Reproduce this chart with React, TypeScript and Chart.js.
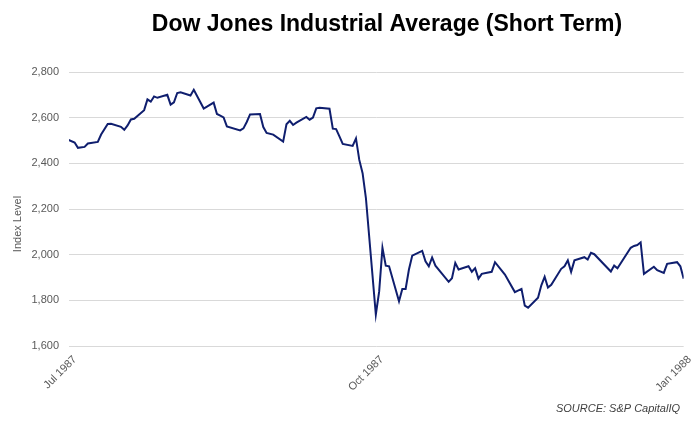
import React, { useEffect, useRef } from "react";
import { Chart, registerables } from "chart.js";

Chart.register(...registerables);

// Day offsets from 17 Jul 1987 (trading days) and closing levels
const days = [
  0, 3, 4, 6, 7, 10, 11, 13, 14, 17, 18, 19, 20, 21, 24, 25, 26, 27, 28, 31, 32, 33, 34, 35, 38, 39,
  42, 45, 46, 47, 48, 49, 53, 54, 55, 56, 59, 60, 61, 63, 66, 67, 68, 69, 70, 73, 74, 75, 76, 77, 80,
  81, 82, 83, 84, 87, 88, 89, 90, 91, 94, 95, 96, 97, 98, 101, 102, 103, 104, 105, 108, 109, 110, 111,
  112, 116, 117, 118, 119, 122, 123, 124, 125, 126, 129, 130, 133, 136, 138, 139, 140, 143, 144, 145,
  146, 147, 150, 151, 152, 153, 154, 157, 158, 159, 160, 165, 166, 167, 171, 172, 173, 174, 175, 178,
  179, 181, 182, 185, 186, 187,
];
const closes = [
  2510, 2491, 2468, 2472, 2487, 2494, 2526, 2572, 2573, 2560, 2547, 2566, 2592, 2595, 2633, 2680, 2670,
  2693, 2687, 2700, 2657, 2667, 2708, 2711, 2697, 2722,
  2640, 2666, 2616, 2609, 2601, 2562, 2544, 2553, 2581, 2614, 2616, 2559, 2533, 2526, 2495, 2571, 2586,
  2568, 2578, 2603, 2591, 2600, 2641, 2643, 2639,
  2552, 2550, 2518, 2485, 2476, 2509, 2415, 2357, 2248, 1738, 1838, 2030, 1952, 1949, 1796, 1850, 1850,
  1935, 1996, 2017, 1971, 1949, 1988,
  1952, 1881, 1897, 1964, 1935, 1949, 1925, 1941, 1895, 1916, 1925, 1967, 1913, 1836, 1850, 1777, 1768,
  1811, 1866, 1903,
  1856, 1868, 1938, 1949, 1975, 1925, 1975, 1989, 1979, 2008, 2002, 1926, 1952, 1940, 2030, 2038, 2042,
  2054, 1916, 1947,
  1932, 1920, 1960, 1967, 1949, 1895,
];

const tickDays = [1.3, 94, 187];
const tickLabels = ["Jul 1987", "Oct 1987", "Jan 1988"];
const yMin = 1600;
const yMax = 2800;
const yStep = 200;

const TITLE = "Dow Jones Industrial Average (Short Term)";
const Y_TITLE = "Index Level";
const SOURCE = "SOURCE: S&P CapitalIQ";

const FONT = "'Liberation Sans', Arial, sans-serif";

export default function App() {
  const ref = useRef<HTMLCanvasElement | null>(null);

  useEffect(() => {
    document.body.style.margin = "0";
    const canvas = ref.current;
    if (!canvas) return;

    const textPlugin = {
      id: "customTexts",
      afterDraw(chart: any) {
        const ctx = chart.ctx as CanvasRenderingContext2D;
        ctx.save();
        ctx.fillStyle = "#000000";
        ctx.font = `bold 23px ${FONT}`;
        ctx.textAlign = "center";
        ctx.textBaseline = "alphabetic";
        ctx.fillText(TITLE, 387, 31);

        ctx.fillStyle = "#404040";
        ctx.font = `italic 11px ${FONT}`;
        ctx.textAlign = "right";
        ctx.textBaseline = "middle";
        ctx.fillText(SOURCE, 680, 409);

        ctx.fillStyle = "#595959";
        ctx.font = `11px ${FONT}`;
        ctx.translate(18, 224);
        ctx.rotate(-Math.PI / 2);
        ctx.textAlign = "center";
        ctx.textBaseline = "middle";
        ctx.fillText(Y_TITLE, 0, 0);
        ctx.restore();
      },
    };

    const chart = new Chart(canvas, {
      type: "line",
      data: {
        datasets: [
          {
            label: "DJIA",
            data: days.map((d, i) => ({ x: d, y: closes[i] })),
            borderColor: "#0f1e6e",
            borderWidth: 2,
            pointRadius: 0,
            tension: 0,
            fill: false,
          },
        ],
      },
      options: {
        animation: false,
        responsive: false,
        layout: { padding: { top: 72, right: 15, left: 0, bottom: 0 } },
        plugins: {
          legend: { display: false },
          title: { display: false },
          tooltip: { enabled: false },
        },
        scales: {
          x: {
            type: "linear",
            min: tickDays[0],
            max: tickDays[tickDays.length - 1],
            grid: { display: false, drawTicks: false },
            border: { display: false },
            afterBuildTicks: (scale: any) => {
              scale.ticks = tickDays.map((v) => ({ value: v }));
            },
            afterFit: (scale: any) => {
              scale.height = 427 - 346;
            },
            ticks: {
              autoSkip: false,
              minRotation: 45,
              maxRotation: 45,
              padding: 7,
              labelOffset: 6,
              color: "#595959",
              font: { family: FONT, size: 11 },
              callback: (_v: any, i: number) => tickLabels[i],
            },
          },
          y: {
            min: yMin,
            max: yMax,
            grid: { color: "#d9d9d9", lineWidth: 1, drawTicks: false },
            border: { display: false },
            afterFit: (scale: any) => {
              scale.width = 69;
            },
            ticks: {
              stepSize: yStep,
              padding: 10,
              color: "#595959",
              font: { family: FONT, size: 11 },
              callback: (v: any) => Number(v).toLocaleString("en-US"),
            },
          },
        },
      },
      plugins: [textPlugin],
    });

    return () => chart.destroy();
  }, []);

  return (
    <div style={{ width: 700, height: 427 }}>
      <canvas ref={ref} width={700} height={427} />
    </div>
  );
}
